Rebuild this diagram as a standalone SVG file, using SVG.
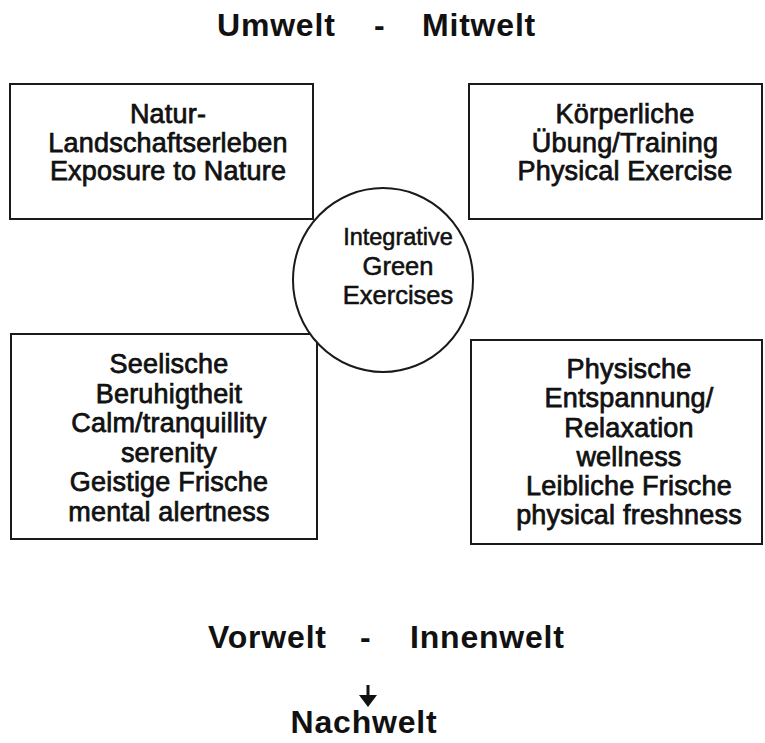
<svg xmlns="http://www.w3.org/2000/svg" width="765" height="743" viewBox="0 0 765 743">
<style>
.box{fill:#fff;stroke:#1a1a1a;stroke-width:2}
.t{font-family:"Liberation Sans",Arial,sans-serif;font-size:27px;fill:#111;stroke:#111;stroke-width:0.75;text-anchor:middle;letter-spacing:0.2px}
.c{font-family:"Liberation Sans",Arial,sans-serif;fill:#111;stroke:#111;stroke-width:0.55;text-anchor:middle}
.h{font-family:"Liberation Sans",Arial,sans-serif;font-weight:bold;font-size:32px;fill:#111;letter-spacing:0.8px}
.conn{stroke:#111;stroke-width:3;fill:none}
</style>
<rect width="765" height="743" fill="#fff"/>
<g id="title-top">
<text class="h" x="217" y="36">Umwelt</text>
<text class="h" x="374" y="36">-</text>
<text class="h" x="422" y="36">Mitwelt</text>
</g>
<g id="node-nature">
<rect class="box" x="10" y="84" width="303" height="135"/>
<text class="t" x="168" y="123">Natur-</text>
<text class="t" x="168" y="151.5">Landschaftserleben</text>
<text class="t" x="168" y="180">Exposure to Nature</text>
</g>
<g id="node-exercise">
<rect class="box" x="469" y="84" width="293" height="135"/>
<text class="t" x="625" y="123">Körperliche</text>
<text class="t" x="625" y="152">Übung/Training</text>
<text class="t" x="625" y="180">Physical Exercise</text>
</g>
<g id="node-calm">
<rect class="box" x="11" y="334" width="306" height="205"/>
<text class="t" x="169" y="373">Seelische</text>
<text class="t" x="169" y="402.5">Beruhigtheit</text>
<text class="t" x="169" y="432">Calm/tranquillity</text>
<text class="t" x="169" y="461.5">serenity</text>
<text class="t" x="169" y="491">Geistige Frische</text>
<text class="t" x="169" y="520.5">mental alertness</text>
</g>
<g id="node-relax">
<rect class="box" x="471" y="340" width="291" height="204"/>
<text class="t" x="629" y="378">Physische</text>
<text class="t" x="629" y="407">Entspannung/</text>
<text class="t" x="629" y="437">Relaxation</text>
<text class="t" x="629" y="466">wellness</text>
<text class="t" x="629" y="495">Leibliche Frische</text>
<text class="t" x="629" y="524">physical freshness</text>
</g>
<g id="node-center">
<ellipse cx="383" cy="280" rx="90" ry="92" fill="#fff" stroke="#1a1a1a" stroke-width="2"/>
<text class="c" x="398" y="245" font-size="23.5">Integrative</text>
<text class="c" x="398" y="275" font-size="25.5">Green</text>
<text class="c" x="398" y="304" font-size="25.5">Exercises</text>
</g>
<g id="title-bottom">
<text class="h" x="208" y="648" font-size="31" letter-spacing="0.5">Vorwelt</text>
<text class="h" x="360" y="648" font-size="31">-</text>
<text class="h" x="410" y="648" font-size="31" letter-spacing="0.8">Innenwelt</text>
</g>
<g id="connectors">
<line class="conn" x1="368" y1="685" x2="368" y2="696"/>
<polygon points="359,695 377,695 368,707" fill="#111"/>
</g>
<g id="title-end">
<text class="h" x="364" y="733" text-anchor="middle" letter-spacing="1">Nachwelt</text>
</g>
</svg>
